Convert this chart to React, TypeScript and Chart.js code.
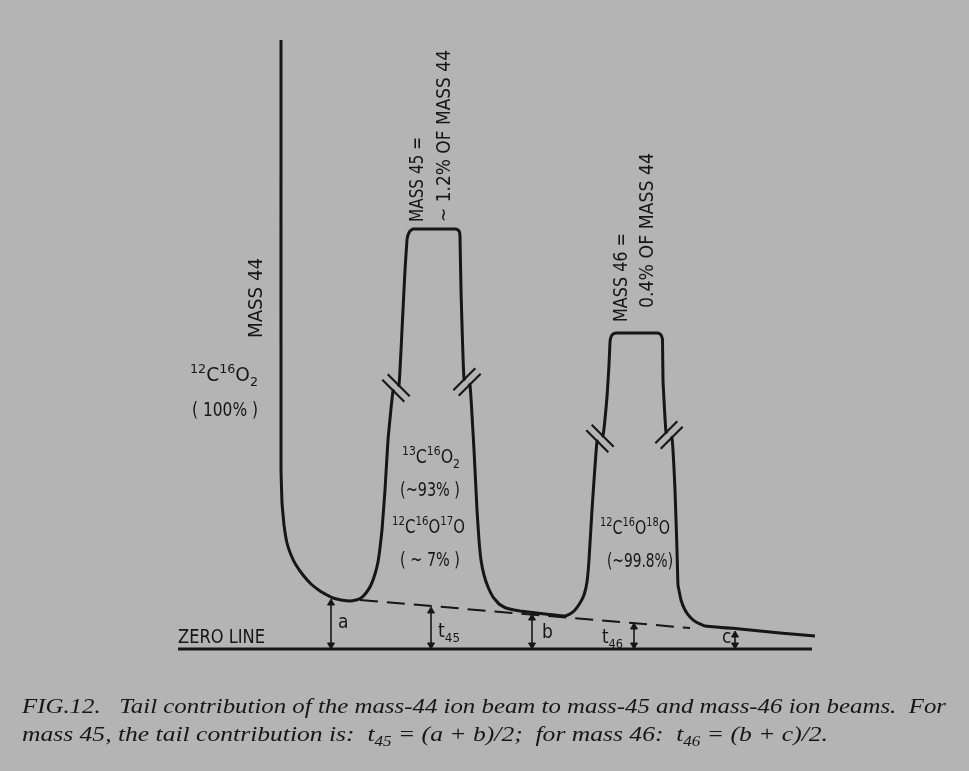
import React, { useEffect, useRef } from "react";
import { Chart, registerables } from "chart.js";
Chart.register(...registerables);

const BG = "#b4b4b4";
const INK = "#161616";
const SANS = "'Liberation Sans Narrow', 'DejaVu Sans Condensed', 'DejaVu Sans', sans-serif";
const SERIF = "'Liberation Serif', 'DejaVu Serif', serif";

// Recorded ion-current trace: scan position vs. signal above the zero line
const traceX = [281, 281, 282, 284, 287, 291, 296, 303, 311, 320, 327, 333, 341, 350, 356, 361, 366, 371, 375, 378, 380, 382, 385, 388, 393,
  399, 402, 405, 407, 408, 410, 413, 455, 458, 459.5, 460, 461, 464,
  470, 474, 477, 479, 481, 484, 488, 493, 499, 506, 520, 545, 565, 570, 575, 580, 584, 587, 589, 592, 597,
  603, 607, 609, 610, 611, 613, 617, 657, 660, 661.5, 662.5, 663, 666,
  672, 675, 677, 678, 681, 685, 690, 696, 705, 740, 780, 815];
const traceY = [609, 179, 146, 124, 106, 94, 84, 74, 65, 58, 54, 51, 49, 48, 49, 51, 56, 64, 75, 87, 101, 119, 159, 209, 258,
  264, 319, 379, 409, 414, 418, 420, 420, 419, 417, 412, 359, 270,
  264, 199, 139, 109, 89, 74, 62, 52, 45, 41, 38, 35, 33, 35, 39, 46, 54, 67, 89, 139, 207.5,
  213.5, 252, 284, 307, 312, 315, 316, 316, 315, 313, 309, 269, 217,
  211, 159, 99, 64, 49, 39, 32, 27, 23, 20, 16, 13];

// Extrapolated mass-44 tail (dashed) and zero line
const tailBaseX = [360, 690];
const tailBaseY = [49, 21];
const zeroX = [178, 812];
const zeroY = [0, 0];

// Measured heights a, t45, b, t46, c
const arrowNames = ["a", "t45", "b", "t46", "c"];
const arrowX = [331, 431, 532, 634, 735];
const arrowTop = [50, 42, 35, 26, 18];

// Scale breaks on the peak flanks
const breakX = [396, 467, 600, 669];
const breakY = [261, 267, 210.5, 214];
const breakDir = [-1, 1, -1, 1];

// Annotations
const flatLabels = [
  { text: "^12C^16O_2", x: 190, y: 268, w: 68, size: 19 },
  { text: "( 100% )", x: 192, y: 233, w: 66, size: 19 },
  { text: "^13C^16O_2", x: 402, y: 186, w: 58, size: 19 },
  { text: "(~93% )", x: 400, y: 153, w: 60, size: 19 },
  { text: "^12C^16O^17O", x: 392, y: 116, w: 73, size: 19 },
  { text: "( ~ 7% )", x: 400, y: 83, w: 60, size: 19 },
  { text: "^12C^16O^18O", x: 600, y: 115, w: 70, size: 19 },
  { text: "(~99.8%)", x: 607, y: 82, w: 66, size: 19 },
  { text: "ZERO LINE", x: 178, y: 6, w: 87, size: 19 },
  { text: "a", x: 338, y: 21, w: 0, size: 19 },
  { text: "t_45", x: 438, y: 12, w: 22, size: 19 },
  { text: "b", x: 542, y: 11, w: 0, size: 19 },
  { text: "t_46", x: 602, y: 6, w: 21, size: 19 },
  { text: "c", x: 722, y: 6, w: 0, size: 19 },
];
const upLabels = [
  { text: "MASS 44", x: 262, y: 311, w: 80, size: 19 },
  { text: "MASS 45 =", x: 423, y: 427, w: 85, size: 19 },
  { text: "~ 1.2% OF MASS 44", x: 450, y: 427, w: 172, size: 19 },
  { text: "MASS 46 =", x: 627, y: 327, w: 89, size: 19 },
  { text: "0.4% OF MASS 44", x: 653, y: 341, w: 155, size: 19 },
];
const captionLines = [
  { text: "FIG.12.   Tail contribution of the mass-44 ion beam to mass-45 and mass-46 ion beams.  For", x: 22, y: -64, w: 924 },
  { text: "mass 45, the tail contribution is:  t_45 = (a + b)/2;  for mass 46:  t_46 = (b + c)/2.", x: 22, y: -92, w: 806 },
];

type Seg = { t: string; k: "n" | "sup" | "sub" };
function parseRich(s: string): Seg[] {
  const out: Seg[] = [];
  let buf = "";
  let i = 0;
  while (i < s.length) {
    const c = s[i];
    if (c === "^" || c === "_") {
      if (buf) { out.push({ t: buf, k: "n" }); buf = ""; }
      let j = i + 1;
      let d = "";
      while (j < s.length && /[0-9]/.test(s[j])) { d += s[j]; j++; }
      out.push({ t: d, k: c === "^" ? "sup" : "sub" });
      i = j;
    } else {
      buf += c;
      i++;
    }
  }
  if (buf) out.push({ t: buf, k: "n" });
  return out;
}

function drawRich(ctx: CanvasRenderingContext2D, text: string, size: number, family: string, style: string, width: number) {
  const segs = parseRich(text);
  const fontOf = (k: string) => `${style} ${k === "n" ? size : Math.round(size * 0.68)}px ${family}`;
  let total = 0;
  const ws = segs.map((sg) => {
    ctx.font = fontOf(sg.k);
    const w = ctx.measureText(sg.t).width;
    total += w;
    return w;
  });
  const sx = width > 0 ? width / total : 1;
  ctx.save();
  ctx.scale(sx, 1);
  let x = 0;
  segs.forEach((sg, i) => {
    ctx.font = fontOf(sg.k);
    const dy = sg.k === "sup" ? -size * 0.42 : sg.k === "sub" ? size * 0.24 : 0;
    ctx.fillText(sg.t, x, dy);
    x += ws[i];
  });
  ctx.restore();
}

const zip = (xs: number[], ys: number[]) => xs.map((x, i) => ({ x, y: ys[i] }));

const textPlugin = {
  id: "figText",
  afterDatasetsDraw(chart: any) {
    const ctx: CanvasRenderingContext2D = chart.ctx;
    const sx = chart.scales.x;
    const sy = chart.scales.y;
    ctx.save();
    ctx.fillStyle = INK;
    ctx.textBaseline = "alphabetic";
    ctx.textAlign = "left";
    flatLabels.forEach((l) => {
      ctx.save();
      ctx.translate(sx.getPixelForValue(l.x), sy.getPixelForValue(l.y));
      drawRich(ctx, l.text, l.size, SANS, "normal", l.w);
      ctx.restore();
    });
    upLabels.forEach((l) => {
      ctx.save();
      ctx.translate(sx.getPixelForValue(l.x), sy.getPixelForValue(l.y));
      ctx.rotate(-Math.PI / 2);
      drawRich(ctx, l.text, l.size, SANS, "normal", l.w);
      ctx.restore();
    });
    captionLines.forEach((l) => {
      ctx.save();
      ctx.translate(sx.getPixelForValue(l.x), sy.getPixelForValue(l.y));
      drawRich(ctx, l.text, 21, SERIF, "italic", l.w);
      ctx.restore();
    });
    ctx.restore();
  },
};

function buildDatasets() {
  const ds: any[] = [];
  ds.push({
    label: "ion current",
    data: zip(traceX, traceY),
    showLine: true,
    borderColor: INK,
    borderWidth: 3,
    pointRadius: 0,
    tension: 0.08,
    borderJoinStyle: "round",
    borderCapStyle: "butt",
    order: 10,
  });
  ds.push({
    label: "mass-44 tail",
    data: zip(tailBaseX, tailBaseY),
    showLine: true,
    borderColor: INK,
    borderWidth: 2,
    borderDash: [18, 9],
    pointRadius: 0,
    order: 11,
  });
  ds.push({
    label: "zero line",
    data: zip(zeroX, zeroY),
    showLine: true,
    borderColor: INK,
    borderWidth: 3,
    pointRadius: 0,
    order: 11,
  });
  const r = 4;
  arrowX.forEach((x, i) => {
    ds.push({
      label: arrowNames[i],
      data: [{ x, y: r }, { x, y: arrowTop[i] - r }],
      showLine: true,
      borderColor: INK,
      borderWidth: 1.6,
      pointStyle: "triangle",
      pointRadius: r,
      pointRotation: [180, 0],
      pointBackgroundColor: INK,
      pointBorderColor: INK,
      pointBorderWidth: 1,
      order: 9,
    });
  });
  breakX.forEach((cx, i) => {
    const cy = breakY[i];
    const s = breakDir[i];
    const h = 11;
    ds.push({
      label: "gap" + i,
      data: [{ x: cx - h * 0.8, y: cy - s * h * 0.8 }, { x: cx + h * 0.8, y: cy + s * h * 0.8 }],
      showLine: true,
      borderColor: BG,
      borderWidth: 5,
      pointRadius: 0,
      order: 5,
    });
    const off = 3.8 / Math.SQRT2;
    [-1, 1].forEach((k) => {
      const ox = k * off;
      const oy = -k * s * off;
      ds.push({
        label: "slash" + i + k,
        data: [{ x: cx + ox - h, y: cy + oy - s * h }, { x: cx + ox + h, y: cy + oy + s * h }],
        showLine: true,
        borderColor: INK,
        borderWidth: 2.2,
        pointRadius: 0,
        order: 1,
      });
    });
  });
  return ds;
}

export default function App() {
  const ref = useRef<HTMLCanvasElement>(null);
  useEffect(() => {
    if (!ref.current) return;
    const chart = new Chart(ref.current, {
      type: "scatter",
      data: { datasets: buildDatasets() },
      options: {
        animation: false,
        responsive: false,
        devicePixelRatio: 1,
        events: [],
        layout: { padding: 0, autoPadding: false },
        plugins: { legend: { display: false }, tooltip: { enabled: false } },
        scales: {
          x: { type: "linear", min: 0, max: 969, display: false },
          y: { type: "linear", min: -122, max: 649, display: false },
        },
      },
      plugins: [textPlugin],
    } as any);
    return () => chart.destroy();
  }, []);
  return (
    <div style={{ position: "absolute", left: 0, top: 0, width: 969, height: 771, background: BG, overflow: "hidden" }}>
      <canvas ref={ref} width={969} height={771} style={{ display: "block" }} />
    </div>
  );
}
